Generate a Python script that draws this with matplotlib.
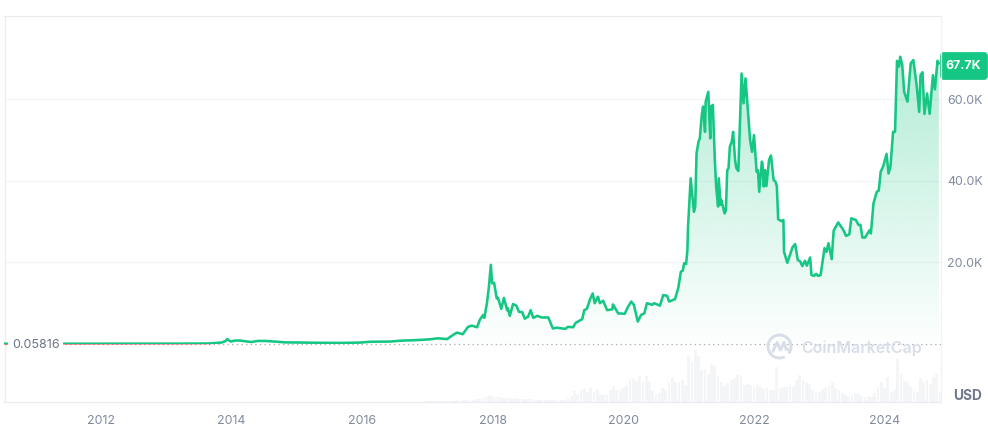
import numpy as np
import matplotlib
matplotlib.use("Agg")
import matplotlib.pyplot as plt
from matplotlib.patches import FancyBboxPatch, Polygon, Rectangle
from matplotlib.transforms import Affine2D

plt.rcParams['font.family'] = ['Inter', 'DejaVu Sans']

years = [2010.52, 2013.21, 2013.67, 2013.85, 2013.91, 2013.93, 2013.99, 2014.05, 2014.13, 2014.24, 2014.31, 2014.40, 2014.51, 2014.66, 2014.82, 2015.05, 2015.35, 2015.66, 2015.97, 2016.12, 2016.43, 2016.58, 2016.89, 2017.04,
 2017.16, 2017.30, 2017.39, 2017.45, 2017.54, 2017.62, 2017.68, 2017.76, 2017.80, 2017.85, 2017.87, 2017.91, 2017.94, 2017.97, 2017.99,
 2018.02, 2018.06, 2018.08, 2018.13, 2018.17, 2018.22, 2018.23, 2018.26, 2018.31, 2018.36, 2018.40, 2018.45, 2018.49, 2018.54, 2018.58, 2018.62, 2018.68, 2018.75, 2018.85, 2018.92, 2018.98,
 2019.11, 2019.15, 2019.23, 2019.27, 2019.37, 2019.40, 2019.44, 2019.49, 2019.53, 2019.56, 2019.61, 2019.64, 2019.69, 2019.75, 2019.83, 2019.84, 2019.92,
 2020.02, 2020.07, 2020.12, 2020.16, 2020.22, 2020.27, 2020.32, 2020.36, 2020.44, 2020.47, 2020.56, 2020.61, 2020.67, 2020.70, 2020.79, 2020.84, 2020.88, 2020.91, 2020.93, 2020.96, 2020.98, 2020.99,
 2021.03, 2021.08, 2021.10, 2021.12, 2021.15, 2021.17, 2021.20, 2021.22, 2021.25, 2021.26, 2021.30, 2021.33, 2021.34, 2021.37, 2021.40, 2021.42, 2021.45, 2021.46, 2021.49, 2021.50, 2021.55, 2021.57, 2021.59, 2021.61, 2021.63, 2021.66, 2021.68, 2021.71, 2021.73, 2021.76, 2021.81, 2021.84, 2021.87, 2021.94, 2021.97,
 2022.00, 2022.04, 2022.06, 2022.08, 2022.12, 2022.13, 2022.15, 2022.17, 2022.19, 2022.23, 2022.26, 2022.30, 2022.33, 2022.35, 2022.37, 2022.42, 2022.45, 2022.46, 2022.51, 2022.55, 2022.59, 2022.63, 2022.67, 2022.71, 2022.74, 2022.78, 2022.81, 2022.86, 2022.88, 2022.92, 2022.95, 2022.98,
 2023.02, 2023.08, 2023.11, 2023.14, 2023.19, 2023.22, 2023.29, 2023.37, 2023.41, 2023.46, 2023.49, 2023.56, 2023.60, 2023.63, 2023.66, 2023.70, 2023.77, 2023.79, 2023.83, 2023.88, 2023.91, 2023.94, 2023.98,
 2024.03, 2024.06, 2024.09, 2024.13, 2024.16, 2024.19, 2024.22, 2024.24, 2024.27, 2024.30, 2024.35, 2024.40, 2024.44, 2024.49, 2024.53, 2024.55, 2024.58, 2024.61, 2024.65, 2024.69, 2024.74, 2024.77, 2024.81, 2024.83]

price_k = [0.06, 0.09, 0.14, 0.37, 0.74, 1.2, 0.6, 0.85, 0.85, 0.6, 0.5, 0.75, 0.75, 0.6, 0.4, 0.35, 0.3, 0.25, 0.35, 0.55, 0.6, 0.8, 1.0, 1.15,
 1.4, 1.2, 2.2, 2.8, 2.4, 4.2, 4.5, 4.1, 5.9, 7.1, 6.4, 10.0, 14.0, 19.4, 14.9,
 15.0, 11.2, 11.3, 8.6, 11.3, 8.3, 8.8, 6.9, 9.8, 9.4, 7.9, 7.8, 6.2, 6.7, 8.3, 6.4, 6.9, 6.5, 6.5, 3.8, 4.0,
 3.7, 4.2, 4.1, 5.2, 6.1, 8.3, 8.6, 11.0, 12.4, 10.0, 11.6, 10.0, 10.6, 8.3, 8.5, 9.7, 7.5,
 7.4, 9.1, 10.4, 9.6, 5.5, 7.1, 7.5, 10.0, 9.6, 10.0, 9.4, 12.0, 11.8, 10.4, 11.0, 13.7, 17.7, 18.0, 19.8, 19.6, 23.0, 28.8,
 40.6, 32.4, 33.7, 46.7, 49.6, 50.4, 56.1, 58.2, 52.0, 59.4, 61.8, 50.4, 58.2, 58.6, 45.1, 38.6, 33.7, 40.6, 34.1, 35.3, 32.0, 32.8, 42.6, 43.1, 48.4, 49.6, 52.0, 45.1, 43.1, 42.4, 66.3, 59.0, 65.1, 50.0, 47.1,
 51.2, 42.2, 42.6, 37.3, 44.7, 44.3, 38.6, 42.6, 38.7, 45.1, 46.2, 40.2, 39.8, 38.6, 30.6, 30.1, 30.4, 22.6, 19.9, 21.8, 23.7, 24.5, 20.6, 20.2, 19.1, 20.4, 19.2, 21.2, 16.9, 16.7, 17.2, 16.7,
 16.9, 23.5, 22.6, 24.7, 20.8, 27.8, 29.8, 27.9, 26.5, 26.9, 30.8, 30.4, 29.2, 29.2, 26.1, 26.1, 27.9, 27.1, 34.5, 37.3, 37.6, 42.2, 43.6,
 46.6, 41.8, 43.5, 52.0, 52.0, 69.4, 68.0, 70.4, 68.4, 61.8, 59.4, 68.8, 69.6, 63.5, 56.9, 65.9, 66.6, 56.4, 61.4, 56.4, 65.9, 62.4, 69.4, 68.8]

volume_start = 2017.0
volume_step = 0.05
volume = [1, 1, 1, 1, 1, 1, 1, 1, 1, 2, 1, 2, 2, 2, 2, 3, 3, 4, 5,
 7, 6, 5, 5, 4, 4, 4, 3, 4, 3, 3, 3, 3, 3, 2, 2, 2, 2, 2, 2, 2, 2,
 2, 2, 4, 6, 11, 7, 13, 13, 10, 14, 10, 12, 8, 7, 7, 12, 16, 12, 12, 14, 17, 23, 24, 21, 26, 20, 26, 20, 11, 8, 9, 14, 12, 20, 25, 20, 20, 22, 17, 46, 40, 52, 46, 32, 33, 28, 38, 36, 26, 20, 16, 19, 22, 24, 27, 26, 17, 18, 17, 15, 17,
 15, 13, 14, 12, 12, 35, 14, 15, 15, 16, 15, 22, 27, 22, 20, 18, 12, 9, 10, 13, 14, 16, 20, 14, 12, 9, 7, 5, 7, 9, 8, 6, 5, 6, 5, 9, 15, 20, 14, 25, 10, 12, 43, 28, 21, 20, 15, 11, 10, 24, 20, 22, 18, 25, 28, 10]

tick_years = [2012, 2014, 2016, 2018, 2020, 2022, 2024]
tick_prices = [20, 40, 60]
tick_price_labels = ['20.0K', '40.0K', '60.0K']
last_price_label = '67.7K'
baseline_label = '0.05816'
baseline_k = 0.0
currency = 'USD'
watermark = 'CoinMarketCap'

W, H = 988, 424
GREEN, RED = '#16c784', '#ea3943'
GREY = '#808a9d'

fig = plt.figure(figsize=(W / 100, H / 100), dpi=100, facecolor='white')
L, R, T, B = 4.5, 940.5, 15.5, 401.5
ax = fig.add_axes([L / W, 1 - B / H, (R - L) / W, (B - T) / H])
PX_YEAR, PX_K = 65.3, 4.08
ax.set_xlim(2012 + (L - 101) / PX_YEAR, 2012 + (R - 101) / PX_YEAR)
ax.set_ylim((344 - B) / PX_K, (344 - T) / PX_K)
px = Affine2D().scale(1, -1).translate(0, H)

# volume bars on a second scale sharing the x axis
vx = ax.twinx()
vx.set_ylim(0, B - T)
vx.axis('off')
vol_x = volume_start + volume_step * np.arange(len(volume))
vx.bar(vol_x, volume, width=volume_step * 0.85, color='#f3f5f7', linewidth=0, zorder=1)
vx.set_zorder(1)
ax.set_zorder(2)
ax.patch.set_visible(False)

for s, sp in ax.spines.items():
    sp.set_color('#e9ecf0')
    sp.set_linewidth(0.9)
ax.spines['right'].set_color('#f0f2f5')
ax.spines['left'].set_color('#eceef1')

ax.set_xticks(tick_years, [str(y) for y in tick_years])
ax.set_yticks(tick_prices, tick_price_labels)
ax.yaxis.tick_right()
ax.tick_params(axis='x', length=0, pad=9.6, labelsize=8.9, labelcolor=GREY)
ax.tick_params(axis='y', length=0, pad=4.6, labelsize=8.9, labelcolor=GREY)
ax.grid(axis='y', color='#f4f5f7', linewidth=0.9, zorder=1)
ax.set_axisbelow(True)

yrs, prc = np.array(years), np.array(price_k)

# gradient below the price line
top = 70.0
alpha = np.linspace(0.325, 0.01, 200)
rgba = np.zeros((200, 2, 4))
rgba[..., :3] = matplotlib.colors.to_rgb(GREEN)
rgba[..., 3] = alpha[:, None]
xl, yl = ax.get_xlim(), ax.get_ylim()
im = ax.imshow(rgba, extent=[xl[0], xl[1], baseline_k, top], aspect='auto', zorder=2, interpolation='bilinear')
ax.set_xlim(xl); ax.set_ylim(yl)
poly = Polygon(np.r_[np.c_[yrs, prc], [[yrs[-1], baseline_k], [yrs[0], baseline_k]]], closed=True,
               transform=ax.transData, fill=False, edgecolor='none')
ax.add_patch(poly)
im.set_clip_path(poly)

# baseline
ax.axhline(baseline_k, color='#a7aeba', linewidth=0.9, linestyle=(0, (1.1, 2.6)), zorder=3)

# price line: red under the baseline, green above it
above = Rectangle((xl[0], baseline_k), xl[1] - xl[0], yl[1] - baseline_k, transform=ax.transData)
below = Rectangle((xl[0], yl[0]), xl[1] - xl[0], baseline_k - yl[0], transform=ax.transData)
l1, = ax.plot(yrs, prc, color=RED, lw=1.3, alpha=0.8, zorder=4, solid_joinstyle='round')
l1.set_clip_path(below)
l2, = ax.plot(yrs, prc, color=GREEN, lw=1.85, zorder=5, solid_joinstyle='round')
l2.set_clip_path(above)

# baseline label
ax.add_patch(Rectangle((8, 336), 55, 18, transform=px, facecolor='white', edgecolor='none', zorder=6))
fig.text(12 / W, 1 - 345.5 / H, baseline_label, color='#6b7488', fontsize=9.0, va='center', ha='left', zorder=10)

# watermark
wm = '#d8deE9'
t = np.radians(np.linspace(-30, 290, 80))
ax.plot(779.5 + 11.5 * np.cos(t), 346.5 - 11.5 * np.sin(t), color=wm, lw=2.1, transform=px, clip_on=False, zorder=7)
ax.plot([773, 777, 780.5, 784, 786, 790], [351, 342.5, 350, 342.5, 349, 350], color=wm, lw=2.1, transform=px, clip_on=False, zorder=7, solid_joinstyle='round')
fig.text(801 / W, 1 - 348 / H, watermark, color=wm, fontsize=11.5, fontweight='semibold', va='center', ha='left', zorder=8)

# last price tag
fig.add_artist(FancyBboxPatch((942, 54), 44, 24, boxstyle='round,pad=0,rounding_size=2', transform=px,
                              facecolor=GREEN, edgecolor=GREEN, linewidth=2.7))
fig.text(963 / W, 1 - 66.3 / H, last_price_label, color='white', fontsize=8.9, fontweight='bold', va='center', ha='center', zorder=10)
fig.text(968 / W, 1 - 396 / H, currency, color='#6f788c', fontsize=9.9, fontweight='bold', va='center', ha='center')

fig.savefig('out.png', dpi=100, facecolor='white')
